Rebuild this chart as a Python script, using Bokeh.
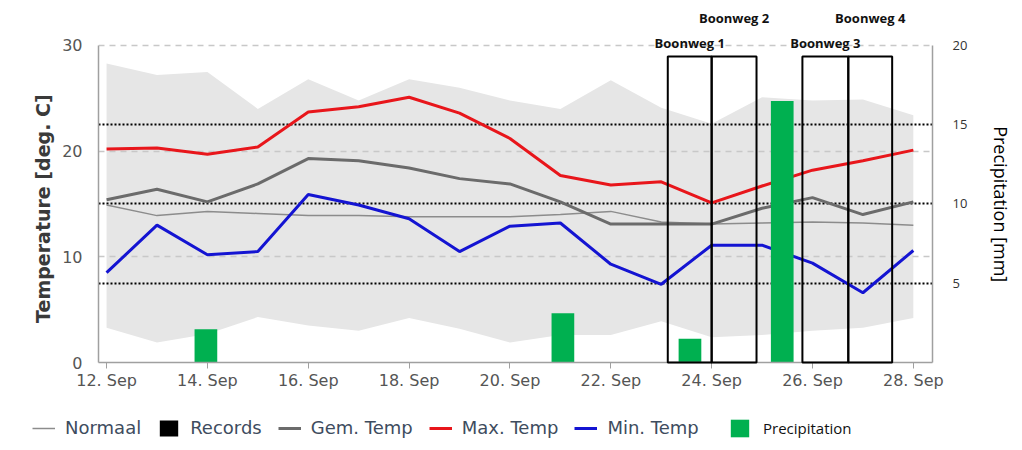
from bokeh.plotting import figure
from bokeh.layouts import column
from bokeh.models import Range1d, LinearAxis, FixedTicker, Grid, Legend, LegendItem, Label
from bokeh.embed import file_html
from bokeh.resources import INLINE

# ---------------- data ----------------
days = list(range(12, 29))
tick_days = [12, 14, 16, 18, 20, 22, 24, 26, 28]
tick_labels = ["12. Sep", "14. Sep", "16. Sep", "18. Sep", "20. Sep",
               "22. Sep", "24. Sep", "26. Sep", "28. Sep"]

records_high = [28.3, 27.2, 27.5, 24.0, 26.8, 24.8, 26.8, 26.0, 24.8, 24.0,
                26.7, 24.1, 22.6, 25.1, 24.8, 24.9, 23.4]
records_low = [3.3, 1.9, 2.7, 4.3, 3.5, 3.0, 4.2, 3.2, 1.9, 2.6,
               2.6, 3.9, 2.4, 2.6, 3.0, 3.3, 4.2]
normaal = [14.9, 13.9, 14.3, 14.1, 13.9, 13.9, 13.8, 13.8, 13.8, 14.0,
           14.3, 13.3, 13.1, 13.2, 13.3, 13.2, 13.0]
gem_temp = [15.4, 16.4, 15.2, 16.9, 19.3, 19.1, 18.4, 17.4, 16.9, 15.2,
            13.1, 13.1, 13.1, 14.6, 15.6, 14.0, 15.2]
max_temp = [20.2, 20.3, 19.7, 20.4, 23.7, 24.2, 25.1, 23.6, 21.2, 17.7,
            16.8, 17.1, 15.1, 16.7, 18.2, 19.1, 20.1]
min_temp = [8.5, 13.0, 10.2, 10.5, 15.9, 14.9, 13.6, 10.5, 12.9, 13.2,
            9.3, 7.4, 11.1, 11.1, 9.4, 6.6, 10.6]

precip_day = [13.97, 21.05, 23.57, 25.4]
precip_mm = [2.1, 3.1, 1.5, 16.5]

boon_names = ["Boonweg 1", "Boonweg 2", "Boonweg 3", "Boonweg 4"]
boon_left = [23.13, 24.0, 25.8, 26.71]
boon_right = [24.0, 24.89, 26.71, 27.58]
boon_bottom = [0, 0, 0, 0]
boon_top = [28.95, 28.95, 28.95, 28.95]

temp_axis = (0, 30)
precip_axis = (0, 20)
top_room = 33.5  # temperature units shown above the axes for the labels

NB = "\u00a0"

# ---------------- main figure ----------------
W = 1022
p = figure(width=W, height=400, x_range=Range1d(11.84, 28.38), y_range=Range1d(0, top_room),
           output_backend="svg", toolbar_location=None,
           min_border_left=98, min_border_right=W - 932, min_border_top=8, min_border_bottom=38)
p.outline_line_color = None
p.extra_y_ranges = {"precip": Range1d(0, top_room * precip_axis[1] / temp_axis[1])}

# x axis
xa = p.xaxis[0]
xa.ticker = FixedTicker(ticks=tick_days)
xa.major_label_overrides = {d: lab for d, lab in zip(tick_days, tick_labels)}
xa.minor_tick_line_color = None
xa.major_tick_out = 6
xa.major_tick_in = 0
xa.major_tick_line_color = "#a0a0a0"
xa.axis_line_color = "#a0a0a0"
xa.axis_line_width = 1.5
xa.major_label_text_font = "DejaVu Sans"
xa.major_label_text_font_size = "16px"
xa.major_label_text_color = "#555555"
xa.major_label_standoff = 2

# left axis
ya = p.yaxis[0]
ya.bounds = temp_axis
ya.ticker = FixedTicker(ticks=[0, 10, 20, 30])
ya.minor_tick_line_color = None
ya.major_tick_line_color = None
ya.axis_line_color = "#a0a0a0"
ya.axis_line_width = 1.5
ya.major_label_text_font = "DejaVu Sans"
ya.major_label_text_font_size = "16px"
ya.major_label_text_color = "#555555"
ya.major_label_standoff = 10
ya.axis_label = "Temperature [deg. C]" + NB * 7
ya.axis_label_text_font = "DejaVu Sans"
ya.axis_label_text_font_size = "19px"
ya.axis_label_text_font_style = "bold"
ya.axis_label_text_color = "#3a3a3a"
ya.axis_label_standoff = 5

# right axis
ra = LinearAxis(y_range_name="precip", ticker=FixedTicker(ticks=[5, 10, 15, 20]),
                axis_label=NB * 8 + "Precipitation [mm]", bounds=precip_axis)
ra.minor_tick_line_color = None
ra.major_tick_line_color = None
ra.axis_line_color = "#a0a0a0"
ra.axis_line_width = 1.5
ra.major_label_text_font = "Open Sans"
ra.major_label_text_font_size = "13px"
ra.major_label_text_color = "#333333"
ra.major_label_standoff = 14
ra.axis_label_text_font = "Open Sans"
ra.axis_label_text_font_size = "18px"
ra.axis_label_text_font_style = "normal"
ra.axis_label_text_color = "#000000"
ra.axis_label_standoff = 19
p.add_layout(ra, "right")

# grids
p.xgrid.visible = False
p.ygrid.ticker = FixedTicker(ticks=[10, 20, 30])
p.ygrid.grid_line_color = "#c8c8c8"
p.ygrid.grid_line_dash = "6 5"
p.ygrid.grid_line_width = 1.5
pg = Grid(dimension=1, ticker=FixedTicker(ticks=[5, 10, 15]), y_range_name="precip",
          grid_line_color="black", grid_line_dash="2 2", grid_line_width=2)
p.add_layout(pg)

# glyphs
p.varea(x=days, y1=records_low, y2=records_high, fill_color="#e6e6e6", level="image")
p.line(days, normaal, line_color="#8c8c8c", line_width=1.5)
p.line(days, gem_temp, line_color="#6b6b6b", line_width=3)
p.line(days, max_temp, line_color="#e8161b", line_width=3)
p.line(days, min_temp, line_color="#1414d2", line_width=3)
p.vbar(x=precip_day, top=precip_mm, width=0.45, y_range_name="precip",
       fill_color="#00b050", line_color=None)
p.quad(left=boon_left, right=boon_right, bottom=boon_bottom, top=boon_top,
       fill_color=None, line_color="black", line_width=2, level="overlay")

label_y = [30.2, 32.6, 30.2, 32.6]
for name, l, r, yy in zip(boon_names, boon_left, boon_right, label_y):
    p.add_layout(Label(x=(l + r) / 2, y=yy, text=name, text_align="center",
                       text_baseline="middle", text_font="Open Sans",
                       text_font_style="bold", text_font_size="13px",
                       text_color="#111111"))

# ---------------- legend strip ----------------
# same series drawn again, but the strip's ranges keep them out of view;
# they only serve as the legend's renderers
q = figure(width=W, height=42, x_range=Range1d(0, 1), y_range=Range1d(0, 1),
           output_backend="svg", toolbar_location=None,
           x_axis_location=None, y_axis_location=None, min_border=0)
q.frame_align = False
q.outline_line_color = None
q.grid.visible = False
e_norm = q.line(days, normaal, line_color="#8c8c8c", line_width=1.5)
e_rec = q.varea(x=days, y1=records_low, y2=records_high, fill_color="black")
e_gem = q.line(days, gem_temp, line_color="#6b6b6b", line_width=3)
e_max = q.line(days, max_temp, line_color="#e8161b", line_width=3)
e_min = q.line(days, min_temp, line_color="#1414d2", line_width=3)
e_bar = q.vbar(x=precip_day, top=precip_mm, width=0.45, fill_color="#00b050", line_color=None)

leg1 = Legend(items=[LegendItem(label="Normaal", renderers=[e_norm]),
                     LegendItem(label="Records", renderers=[e_rec]),
                     LegendItem(label="Gem. Temp", renderers=[e_gem]),
                     LegendItem(label="Max. Temp", renderers=[e_max]),
                     LegendItem(label="Min. Temp", renderers=[e_min])],
              orientation="horizontal", location=(32, 4),
              glyph_width=23, glyph_height=20, label_standoff=10, spacing=16,
              padding=0, margin=0, border_line_color=None, background_fill_alpha=0,
              label_text_font="DejaVu Sans", label_text_font_size="18px",
              label_text_color="#3e4c5e")
q.add_layout(leg1)
leg2 = Legend(items=[LegendItem(label="Precipitation", renderers=[e_bar])],
              orientation="horizontal", location=(728, 3),
              glyph_width=23, glyph_height=22, label_standoff=12,
              padding=0, margin=0, border_line_color=None, background_fill_alpha=0,
              label_text_font="Open Sans", label_text_font_size="15px",
              label_text_color="#111111")
q.add_layout(leg2)

open("out.html", "w").write(file_html(column(p, q), INLINE))
